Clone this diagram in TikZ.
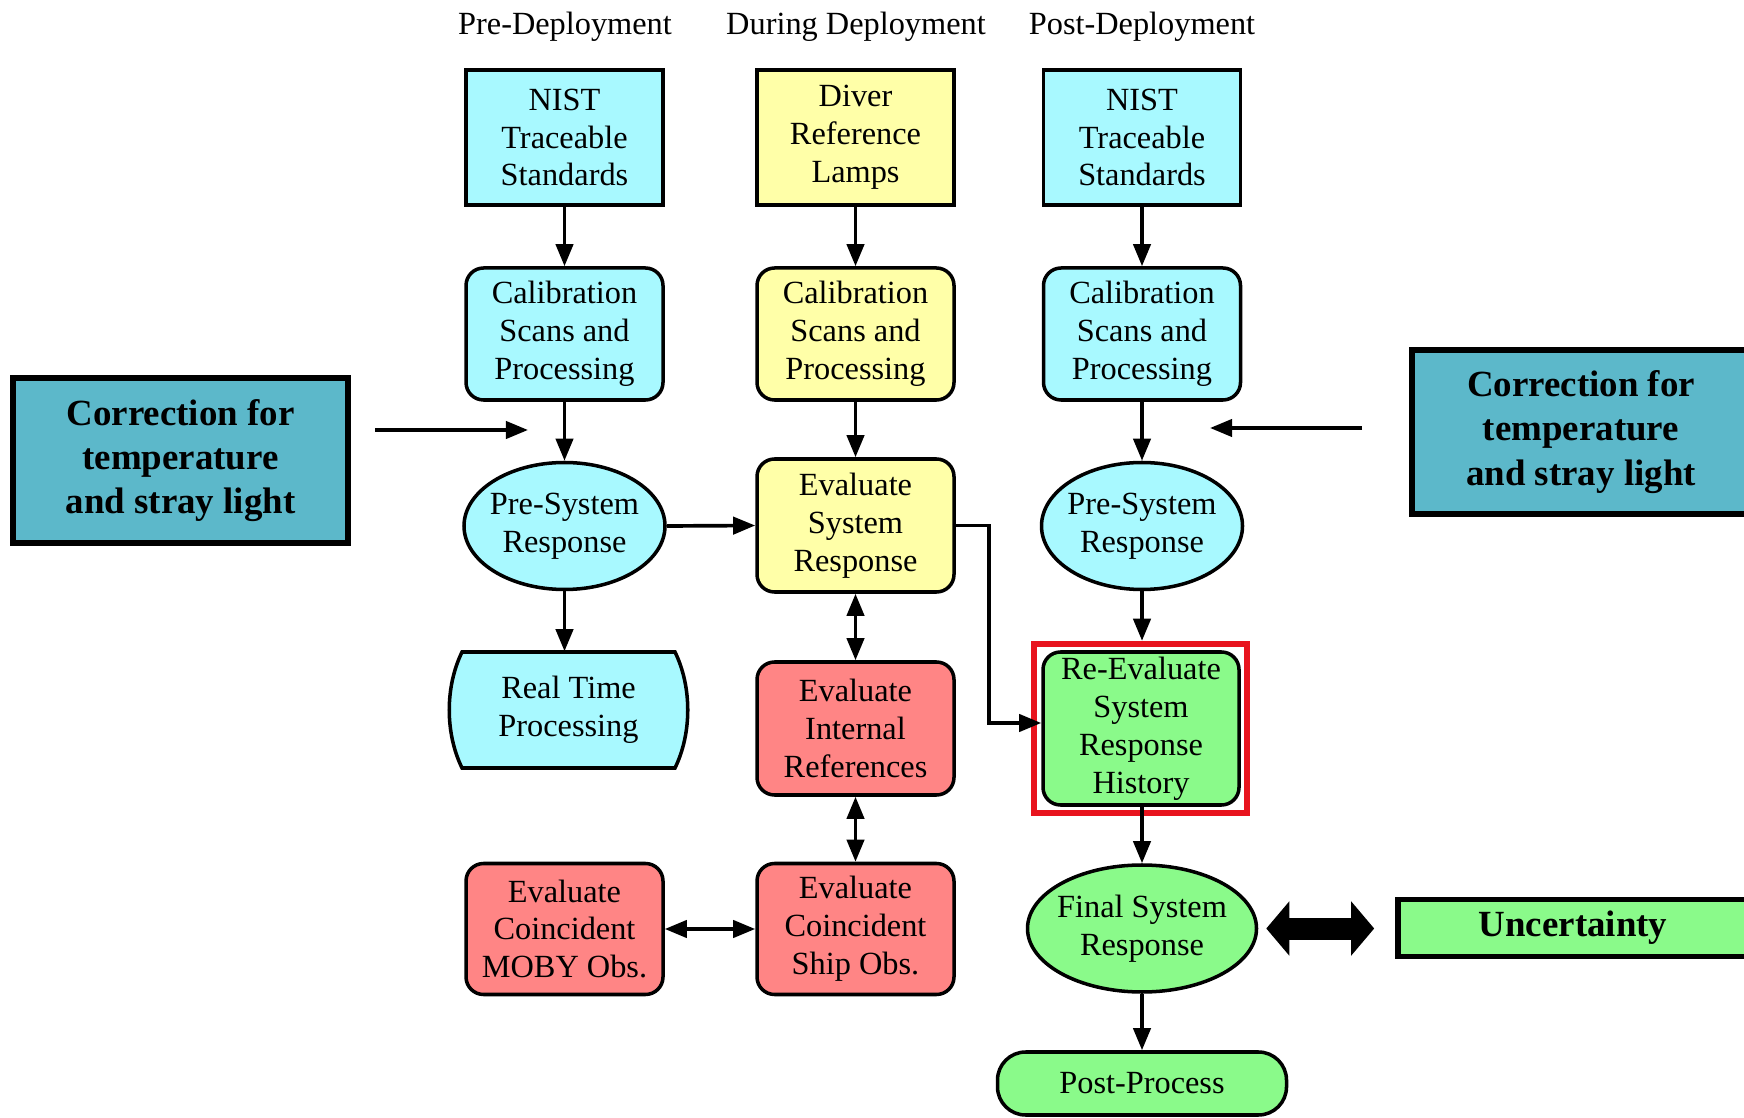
\documentclass[tikz,border=0pt]{standalone}
\usepackage{fontspec}
\setmainfont{Liberation Serif}
\usetikzlibrary{arrows.meta,positioning,shapes.geometric}

\definecolor{cyanfill}{HTML}{A8F9FF}
\definecolor{yelfill}{HTML}{FFFFA8}
\definecolor{redfill}{HTML}{FF8585}
\definecolor{grnfill}{HTML}{8AFA8A}
\definecolor{tealfill}{HTML}{5CB8CA}
\definecolor{redframe}{HTML}{E8141E}

\begin{document}
\begin{tikzpicture}[
  font=\fontsize{9.2}{10.8}\selectfont,
  >={Triangle[length=6.3pt,width=4.9pt]},
  sqbox/.style={draw, line width=1pt, align=center, minimum width=1.97cm, minimum height=1.33cm, inner sep=1pt},
  rbox/.style={sqbox, rounded corners=5pt},
  ebox/.style={ellipse, draw, line width=1pt, align=center, minimum width=2.01cm, minimum height=1.27cm,
    inner xsep=-3pt, inner ysep=0pt},
  corr/.style={draw, line width=1.8pt, fill=tealfill, align=center, font=\fontsize{10.5}{12.6}\selectfont\bfseries},
  flow/.style={->, line width=1.05pt},
  flowb/.style={<->, line width=1.05pt}
]
\useasboundingbox (0,0) rectangle (17.44,11.17);

% ── Column headings ──
\node (hpre)  at (5.65, 10.9) {Pre-Deployment};
\node (hdur)  at (8.56, 10.9) {During Deployment};
\node (hpost) at (11.42, 10.9) {Post-Deployment};

% ── Pre-deployment column ──
\node[sqbox, fill=cyanfill, minimum height=1.35cm] (nist1) at (5.645, 9.795)
  {NIST\\Traceable\\Standards};
\node[rbox, fill=cyanfill, minimum height=1.32cm] (cal1) at (5.645, 7.83)
  {Calibration\\Scans and\\Processing};
\node[ebox, fill=cyanfill] (pre1) at (5.645, 5.91) {Pre-System\\Response};

% Real time processing (bulged sides)
\draw[line width=1pt, fill=cyanfill] (4.62,4.65) -- (6.75,4.65)
  .. controls (6.92,4.3) and (6.92,3.84) .. (6.75,3.49) -- (4.62,3.49)
  .. controls (4.45,3.84) and (4.45,4.3) .. (4.62,4.65) -- cycle;
\node[align=center, minimum width=2.3cm, minimum height=1.16cm] (rt) at (5.685, 4.07)
  {Real Time\\Processing};

\node[rbox, fill=redfill, minimum height=1.31cm] (moby) at (5.645, 1.88)
  {Evaluate\\Coincident\\MOBY Obs.};

% ── During deployment column ──
\node[sqbox, fill=yelfill, minimum height=1.35cm] (lamps) at (8.555, 9.795)
  {Diver\\Reference\\Lamps\vphantom{g}};
\node[rbox, fill=yelfill, minimum height=1.32cm] (cal2) at (8.555, 7.83)
  {Calibration\\Scans and\\Processing};
\node[rbox, fill=yelfill] (evsys) at (8.555, 5.915)
  {Evaluate\\System\\Response};
\node[rbox, fill=redfill] (evint) at (8.555, 3.885)
  {Evaluate\\Internal\\References};
\node[rbox, fill=redfill, minimum height=1.31cm] (ship) at (8.555, 1.88)
  {Evaluate\\Coincident\\Ship Obs.};

% ── Post-deployment column ──
\node[sqbox, fill=cyanfill, minimum height=1.35cm] (nist3) at (11.42, 9.795)
  {NIST\\Traceable\\Standards};
\node[rbox, fill=cyanfill, minimum height=1.32cm] (cal3) at (11.42, 7.83)
  {Calibration\\Scans and\\Processing};
\node[ebox, fill=cyanfill] (pre3) at (11.42, 5.91) {Pre-System\\Response};
\node[rbox, fill=grnfill, minimum width=1.96cm, minimum height=1.53cm] (reeval) at (11.41, 3.885)
  {Re-Evaluate\\System\\Response\\History};
\node[draw=redframe, line width=1.8pt, minimum width=2.13cm, minimum height=1.69cm] (hl)
  at (11.405, 3.885) {};
\node[ebox, fill=grnfill, minimum width=2.29cm] (final) at (11.42, 1.885)
  {Final System\\Response};
\node[rbox, fill=grnfill, rounded corners=8pt, minimum width=2.89cm, minimum height=0.63cm] (post)
  at (11.42, 0.335) {Post-Process};

% ── Side boxes ──
\node[corr, minimum width=3.35cm, minimum height=1.65cm] (corrL) at (1.805, 6.565)
  {Correction for\\temperature\\and stray light};
\node[corr, minimum width=3.38cm, minimum height=1.64cm] (corrR) at (15.81, 6.85)
  {Correction for\\temperature\\and stray light};
\node[draw, line width=1.6pt, fill=grnfill, minimum width=3.5cm, minimum height=0.54cm,
  font=\fontsize{10.5}{12.6}\selectfont\bfseries] (unc) at (15.73, 1.89) {Uncertainty};

\coordinate (lcs) at (3.75, 6.87);
\coordinate (lce) at (5.28, 6.87);
\coordinate (rcs) at (13.62, 6.89);
\coordinate (rce) at (12.10, 6.89);

% ── Arrows ──
\draw[flow] (nist1) -- (cal1);
\draw[flow] (cal1) -- (pre1);
\draw[flow] (pre1.south) -- (pre1.south |- rt.north);
\draw[flow] (pre1.east) -- (evsys.west);

\draw[flow] (lamps) -- (cal2);
\draw[flow] (cal2) -- (evsys);
\draw[flowb] (evsys) -- (evint);
\draw[flowb] (evint) -- (ship);
\draw[flowb] (moby) -- (ship);

\draw[flow] (nist3) -- (cal3);
\draw[flow] (cal3) -- (pre3);
\draw[flow] (pre3.south) -- (pre3.south |- hl.north);
\draw[flow] (final.north |- reeval.south) -- (final.north);
\draw[flow] (final.south) -- (post.north);
\draw[flow] (evsys.east) -- ++(0.33,0) |- ([yshift=0.055cm]reeval.west);

\draw[flow] (lcs) -- (lce);
\draw[flow] (rcs) -- (rce);

\draw[line width=0.22cm, {Triangle[length=0.23cm,width=0.53cm]}-{Triangle[length=0.23cm,width=0.53cm]},
  shorten <=0.8mm, shorten >=2.1mm] (final.east) -- (final.east -| unc.west);

\end{tikzpicture}
\end{document}
